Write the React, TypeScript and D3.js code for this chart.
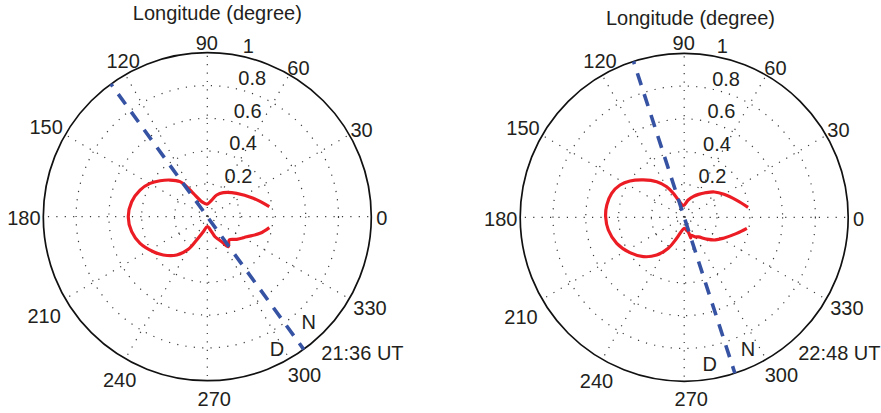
import React from "react";
import * as d3 from "d3";

// Polar grid definition
const ringValues = [0.2, 0.4, 0.6, 0.8, 1];
const ringLabels = ["0.2", "0.4", "0.6", "0.8", "1"];
const spokeAngles = [0, 30, 60, 90, 120, 150];
const angleTicks = [0, 30, 60, 90, 120, 150, 180, 210, 240, 270, 300, 330];
const angleTickLabels = ["0", "30", "60", "90", "120", "150", "180", "210", "240", "270", "300", "330"];

const titleText = "Longitude (degree)";

// Pattern at 21:36 UT (longitude in degrees, normalised amplitude)
const leftAngles = [
  9.2, 21.8, 38.5, 56.3, 66.6, 75, 91, 110.5, 120.9, 124.5, 127.9, 135.5, 142.7,
  149.8, 158.4, 168.8, 180, 191.2, 201.6, 213, 221, 231.4, 239.8, 245.5, 255, 270,
  286, 291, 300, 305, 313.4, 322.4, 333, 342.5, 350,
];
const leftRadii = [
  0.383, 0.302, 0.229, 0.176, 0.144, 0.105, 0.077, 0.098, 0.166, 0.222, 0.271, 0.319, 0.362,
  0.404, 0.441, 0.47, 0.482, 0.47, 0.441, 0.392, 0.356, 0.299, 0.23, 0.156, 0.095, 0.061,
  0.095, 0.131, 0.176, 0.223, 0.195, 0.226, 0.27, 0.337, 0.384,
];

// Pattern at 22:48 UT
const rightAngles = [
  8.9, 18.2, 30, 40, 49, 58, 66, 77, 94, 108.8, 114.4, 119.8, 127.7, 137.6, 146.2,
  153.3, 161.7, 171, 179.6, 189.5, 201.1, 213.1, 223.9, 233.9, 242.8, 250.3, 270.5,
  281, 286, 287.5, 291, 300, 306, 316, 324, 332, 343, 350,
];
const rightRadii = [
  0.394, 0.335, 0.28, 0.24, 0.198, 0.165, 0.14, 0.108, 0.072, 0.111, 0.161, 0.215, 0.274, 0.338, 0.398,
  0.438, 0.466, 0.478, 0.479, 0.469, 0.441, 0.395, 0.346, 0.285, 0.212, 0.136, 0.067,
  0.082, 0.095, 0.132, 0.118, 0.138, 0.148, 0.192, 0.235, 0.271, 0.335, 0.388,
];

// Day/night terminator longitude (night-side end) and epoch labels
const terminatorAngles = [306, 288];
const timeLabels = ["21:36 UT", "22:48 UT"];
const nightLabel = "N";
const dayLabel = "D";

// Layout
const WIDTH = 881;
const HEIGHT = 413;
const R = 164;
const FONT = "'Liberation Sans', Arial, Helvetica, sans-serif";
const TEXT = "#231f20";
const GRID = "#3a3a3a";
const RED = "#ec1c24";
const BLUE = "#3652a3";
const DOT_PERIOD = 8.4;

// small hand placement tweaks for the angular tick labels (px, screen space)
const tickNudge: [number, number][] = [
  [-6, 1], [-2, 3], [1, 7], [-0.5, 6], [6, 0], [-5, 0.5],
  [-3, 1], [-7, 9], [2.5, 7], [7, 1.5], [7, 1.5], [6.5, 0.5],
];

const rScale = d3.scaleLinear().domain([0, 1]).range([0, R]);
const toRad = (deg: number) => (deg * Math.PI) / 180;
const pt = (deg: number, px: number): [number, number] => [
  px * Math.cos(toRad(deg)),
  -px * Math.sin(toRad(deg)),
];

type PanelProps = {
  cx: number;
  cy: number;
  angles: number[];
  radii: number[];
  terminator: number;
  timeLabel: string;
  titleBaseline: number;
  titleShift: number;
  ringLabelShift: number;
};

function Panel({ cx, cy, angles, radii, terminator, timeLabel, titleBaseline, titleShift, ringLabelShift }: PanelProps) {
  const data: [number, number][] = angles.map((a, i) => [a, radii[i]]);
  const radial = d3
    .lineRadial<[number, number]>()
    .angle((d) => toRad(90 - d[0]))
    .radius((d) => rScale(d[1]))
    .curve(d3.curveCatmullRom.alpha(0.5));
  const pathD = radial(data) || "";

  const [x1, y1] = pt(terminator - 180, rScale(1));
  const [x2, y2] = pt(terminator, rScale(1));

  // unit vectors along the terminator (towards night end) and across it
  const ux = Math.cos(toRad(terminator));
  const uy = -Math.sin(toRad(terminator));
  const px = uy;
  const py = -ux;
  const nPos = [ux * 145 + px * 20, uy * 145 + py * 20];
  const dPos = [ux * 147.5 - px * 21, uy * 147.5 - py * 21];

  const dotted = {
    stroke: GRID,
    strokeWidth: 1.2,
    strokeDasharray: `1.2 ${DOT_PERIOD - 1.2}`,
    fill: "none",
  };
  // phase so that one dot of every spoke falls on the pole
  const spokeOffset = (rScale(1) % DOT_PERIOD) - 0.6;

  return (
    <g transform={`translate(${cx},${cy})`}>
      {ringValues.slice(0, -1).map((v) => (
        <circle key={`ring${v}`} r={rScale(v)} {...dotted} />
      ))}
      {spokeAngles.map((a) => {
        const [ax, ay] = pt(a, rScale(1));
        return (
          <line
            key={`sp${a}`}
            x1={-ax}
            y1={-ay}
            x2={ax}
            y2={ay}
            {...dotted}
            strokeDashoffset={spokeOffset}
          />
        );
      })}
      <circle r={rScale(1)} fill="none" stroke="#111" strokeWidth={1.7} />

      <path d={pathD} fill="none" stroke={RED} strokeWidth={3.2} strokeLinejoin="miter" />

      <line
        x1={x1}
        y1={y1}
        x2={x2}
        y2={y2}
        stroke={BLUE}
        strokeWidth={3.6}
        strokeDasharray="12.5 9.5"
        strokeDashoffset={9.5}
      />

      <g fontFamily={FONT} fontSize={20} fill={TEXT}>
        {ringValues.map((v, i) => {
          const [lx, ly] = pt(82, rScale(v + 0.01));
          return (
            <text key={`rl${v}`} x={lx + ringLabelShift} y={ly}>
              {ringLabels[i]}
            </text>
          );
        })}
        {angleTicks.map((a, i) => {
          const [lx, ly] = pt(a, rScale(1.1));
          return (
            <text
              key={`al${a}`}
              x={lx + tickNudge[i][0]}
              y={ly + tickNudge[i][1]}
              dy="0.36em"
              textAnchor="middle"
            >
              {angleTickLabels[i]}
            </text>
          );
        })}
        <text x={titleShift} y={titleBaseline} textAnchor="middle">
          {titleText}
        </text>
        <text x={nPos[0]} y={nPos[1]} dy="0.36em" textAnchor="middle">
          {nightLabel}
        </text>
        <text x={dPos[0]} y={dPos[1]} dy="0.36em" textAnchor="middle">
          {dayLabel}
        </text>
        <text x={114} y={136} dy="0.36em">
          {timeLabel}
        </text>
      </g>
    </g>
  );
}

export default function App() {
  return (
    <svg
      width={WIDTH}
      height={HEIGHT}
      style={{ position: "absolute", left: 0, top: 0, background: "#fff" }}
    >
      <Panel
        cx={207.3}
        cy={216.7}
        angles={leftAngles}
        radii={leftRadii}
        terminator={terminatorAngles[0]}
        timeLabel={timeLabels[0]}
        titleBaseline={-196.7}
        titleShift={10}
        ringLabelShift={12.5}
      />
      <Panel
        cx={684.2}
        cy={217.3}
        angles={rightAngles}
        radii={rightRadii}
        terminator={terminatorAngles[1]}
        timeLabel={timeLabels[1]}
        titleBaseline={-192.3}
        titleShift={6.3}
        ringLabelShift={9.5}
      />
    </svg>
  );
}
